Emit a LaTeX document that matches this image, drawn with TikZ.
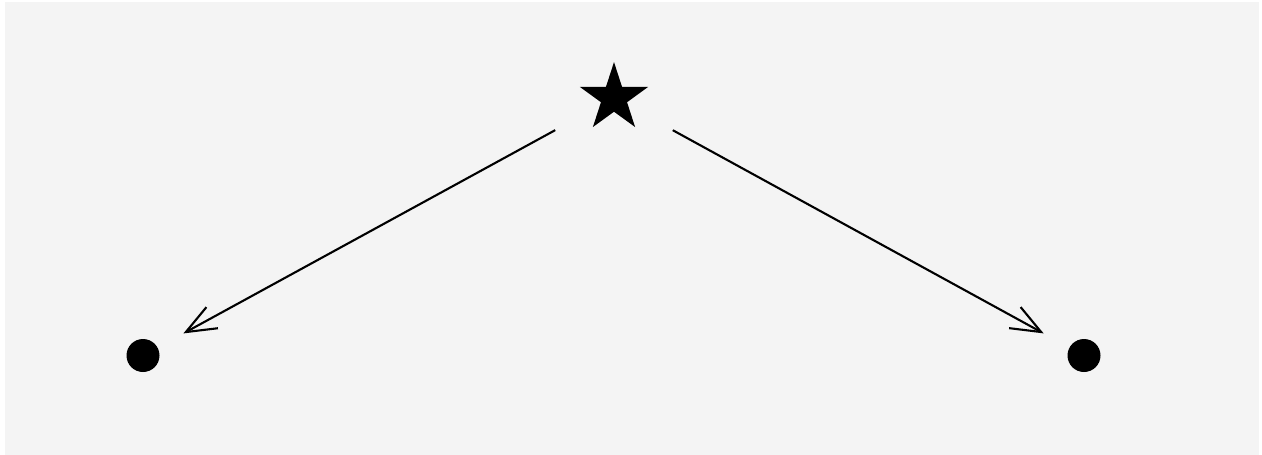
\documentclass[tikz,border=0pt]{standalone}
\usetikzlibrary{arrows.meta,shapes.geometric}
\definecolor{bggray}{HTML}{F4F4F4}
\tikzset{
  bigstar/.style={star, star points=5, star point ratio=2.618, fill=black, draw=none, minimum size=71.8pt, inner sep=0pt},
  dot/.style={circle, fill=black, draw=none, minimum size=33pt, inner sep=0pt},
  link/.style={line width=2.1pt, -{Straight Barb[length=30pt,width=24pt]}, shorten <=67pt, shorten >=46pt}
}
\begin{document}
\begin{tikzpicture}[x=1pt,y=-1pt]
\useasboundingbox (0,0) rectangle (1262,455);
\fill[bggray] (5,2) rectangle (1259,455);
\node[bigstar] (s) at (614,98) {};
\node[dot] (l) at (143,355.5) {};
\node[dot] (r) at (1084,355.5) {};
\draw[link] (s.center) -- (l.center);
\draw[link] (s.center) -- (r.center);
\end{tikzpicture}
\end{document}
